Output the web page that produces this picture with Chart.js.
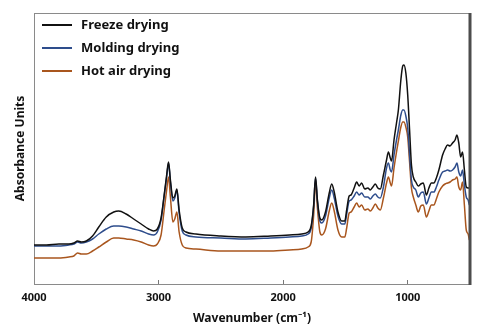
<!DOCTYPE html>
<html>
<head>
<meta charset="utf-8">
<script src="https://cdn.jsdelivr.net/npm/chart.js@4.4.1/dist/chart.umd.min.js"></script>
<style>
  body { margin: 0; background: #fff; }
</style>
</head>
<body>
<canvas id="ftir-chart" width="488" height="330"></canvas>
<script>
// wavenumber grid (cm-1), shared by all three spectra
const wavenumbers = [4000, 3900, 3800, 3720, 3680, 3650, 3620, 3580, 3530, 3480, 3420, 3360, 3320, 3260, 3200, 3140, 3080, 3040, 3010, 2980,
  2955, 2935, 2920, 2905, 2885, 2870, 2853, 2835, 2810, 2780, 2700, 2500, 2300, 2100, 1950, 1850, 1800, 1775, 1755, 1740,
  1725, 1705, 1690, 1660, 1630, 1610, 1590, 1560, 1530, 1505, 1490, 1470, 1455, 1430, 1410, 1390, 1370, 1345, 1320, 1300,
  1280, 1260, 1240, 1220, 1195, 1170, 1155, 1140, 1130, 1110, 1090, 1075, 1055, 1040, 1030, 1015, 1000, 985, 970, 955,
  935, 915, 895, 875, 850, 830, 810, 790, 770, 750, 720, 700, 680, 660, 640, 620, 605, 590, 575, 560,
  545, 530, 515, 505];

const freezeDrying = [0.39, 0.39, 0.40, 0.40, 0.41, 0.43, 0.42, 0.43, 0.48, 0.57, 0.67, 0.72, 0.73, 0.70, 0.65, 0.60, 0.55, 0.53, 0.55, 0.66,
  0.89, 1.09, 1.22, 1.04, 0.86, 0.88, 0.95, 0.74, 0.56, 0.52, 0.50, 0.48, 0.47, 0.48, 0.49, 0.50, 0.52, 0.58, 0.79, 1.07,
  0.84, 0.66, 0.64, 0.72, 0.91, 1.00, 0.92, 0.72, 0.63, 0.63, 0.74, 0.88, 0.89, 0.96, 1.02, 0.98, 1.01, 0.95, 0.96, 0.94,
  0.97, 1.00, 0.96, 0.95, 1.09, 1.24, 1.32, 1.26, 1.23, 1.44, 1.61, 1.74, 2.04, 2.18, 2.19, 2.11, 1.89, 1.54, 1.19, 1.07,
  1.02, 0.98, 1.00, 1.01, 0.89, 0.96, 1.01, 1.01, 1.06, 1.14, 1.29, 1.35, 1.39, 1.38, 1.41, 1.44, 1.49, 1.41, 1.27, 1.32,
  1.14, 0.97, 0.96, 0.96];

const moldingDrying = [0.38, 0.38, 0.38, 0.39, 0.40, 0.42, 0.41, 0.42, 0.45, 0.50, 0.55, 0.58, 0.58, 0.57, 0.55, 0.53, 0.50, 0.49, 0.52, 0.64,
  0.88, 1.07, 1.21, 1.02, 0.83, 0.86, 0.94, 0.71, 0.53, 0.49, 0.47, 0.46, 0.45, 0.46, 0.47, 0.48, 0.50, 0.56, 0.78, 1.06,
  0.83, 0.63, 0.61, 0.68, 0.86, 0.94, 0.86, 0.68, 0.60, 0.60, 0.70, 0.83, 0.84, 0.88, 0.92, 0.89, 0.91, 0.87, 0.87, 0.85,
  0.88, 0.90, 0.87, 0.86, 0.97, 1.16, 1.21, 1.14, 1.12, 1.29, 1.44, 1.54, 1.69, 1.74, 1.74, 1.68, 1.56, 1.29, 1.04, 0.97,
  0.94, 0.87, 0.91, 0.92, 0.80, 0.86, 0.92, 0.92, 0.97, 1.04, 1.12, 1.13, 1.14, 1.13, 1.14, 1.17, 1.21, 1.12, 1.08, 1.14,
  0.99, 0.87, 0.84, 0.79];

const hotAirDrying = [0.26, 0.26, 0.26, 0.27, 0.28, 0.31, 0.30, 0.30, 0.33, 0.37, 0.42, 0.46, 0.46, 0.45, 0.44, 0.42, 0.39, 0.38, 0.40, 0.49,
  0.74, 0.94, 1.07, 0.87, 0.62, 0.65, 0.72, 0.52, 0.39, 0.36, 0.35, 0.33, 0.33, 0.33, 0.34, 0.35, 0.37, 0.42, 0.69, 1.03,
  0.76, 0.52, 0.49, 0.55, 0.73, 0.81, 0.73, 0.54, 0.47, 0.47, 0.56, 0.71, 0.72, 0.77, 0.81, 0.77, 0.79, 0.74, 0.75, 0.73,
  0.76, 0.80, 0.76, 0.74, 0.86, 1.01, 1.07, 1.01, 0.98, 1.16, 1.32, 1.43, 1.57, 1.62, 1.62, 1.57, 1.47, 1.22, 0.96, 0.87,
  0.79, 0.72, 0.78, 0.79, 0.67, 0.73, 0.79, 0.79, 0.85, 0.92, 0.98, 1.00, 1.01, 1.02, 1.04, 1.05, 1.07, 0.97, 0.94, 1.02,
  0.79, 0.54, 0.50, 0.44];

const seriesLabels = ['Freeze drying', 'Molding drying', 'Hot air drying'];
const xTicks = [4000, 3000, 2000, 1000];

const FONT = "'Noto Sans', 'Open Sans', sans-serif";

function toPoints(values) {
  return wavenumbers.map((wn, i) => ({ x: wn, y: values[i] }));
}

function spectrum(label, values, color) {
  return {
    label: label,
    data: toPoints(values),
    borderColor: color,
    backgroundColor: color,
    borderWidth: 1.5,
    pointRadius: 0,
    cubicInterpolationMode: 'monotone',
    fill: false
  };
}

// top and right edges of the plot frame
const framePlugin = {
  id: 'frame',
  afterDraw(chart) {
    const { ctx, chartArea: a } = chart;
    ctx.save();
    ctx.strokeStyle = '#8a8a8a';
    ctx.lineWidth = 1;
    ctx.beginPath();
    ctx.moveTo(a.left, a.top + 0.5);
    ctx.lineTo(a.right, a.top + 0.5);
    ctx.stroke();
    ctx.strokeStyle = '#4d4d4d';
    ctx.lineWidth = 3;
    ctx.beginPath();
    ctx.moveTo(a.right, a.top);
    ctx.lineTo(a.right, a.bottom + 1);
    ctx.stroke();
    ctx.restore();
  }
};

// legend drawn inside the plot, top left
const insideLegend = {
  id: 'insideLegend',
  afterDraw(chart) {
    const { ctx, chartArea: a } = chart;
    ctx.save();
    ctx.font = "bold 13px " + FONT;
    ctx.textBaseline = 'middle';
    chart.data.datasets.forEach((ds, i) => {
      const y = a.top + 12 + i * 23;
      ctx.strokeStyle = ds.borderColor;
      ctx.lineWidth = 2;
      ctx.beginPath();
      ctx.moveTo(a.left + 8, y);
      ctx.lineTo(a.left + 38, y);
      ctx.stroke();
      ctx.fillStyle = '#111';
      ctx.fillText(ds.label, a.left + 47, y);
    });
    ctx.restore();
  }
};

new Chart(document.getElementById('ftir-chart').getContext('2d'), {
  type: 'line',
  data: {
    datasets: [
      spectrum(seriesLabels[0], freezeDrying, '#111111'),
      spectrum(seriesLabels[1], moldingDrying, '#2e4d8c'),
      spectrum(seriesLabels[2], hotAirDrying, '#a9561e')
    ]
  },
  options: {
    responsive: false,
    animation: false,
    layout: { padding: { left: 0, top: 13, right: 18, bottom: 0 } },
    plugins: {
      legend: { display: false },
      tooltip: { enabled: false }
    },
    scales: {
      x: {
        type: 'linear',
        reverse: true,
        min: 500,
        max: 4000,
        afterBuildTicks: (scale) => { scale.ticks = xTicks.map(v => ({ value: v })); },
        afterFit: (scale) => { scale.height = 46; },
        grid: { display: true, drawOnChartArea: false, drawTicks: true, tickLength: -4, color: '#777' },
        border: { display: true, color: '#8a8a8a', width: 1 },
        ticks: {
          padding: 11,
          maxRotation: 0,
          color: '#111',
          callback: (value) => String(value),
          font: { family: FONT, size: 11, weight: 'bold' }
        },
        title: {
          display: true,
          text: 'Wavenumber (cm⁻¹)',
          color: '#111',
          padding: 4,
          font: { family: FONT, size: 12, weight: 'bold' }
        }
      },
      y: {
        min: 0,
        max: 2.71,
        afterFit: (scale) => { scale.width = 34; },
        grid: { display: false },
        border: { display: true, color: '#8a8a8a', width: 1 },
        ticks: { display: false },
        title: {
          display: true,
          text: 'Absorbance Units',
          color: '#111',
          padding: 13,
          font: { family: FONT, size: 12, weight: 'bold' }
        }
      }
    }
  },
  plugins: [framePlugin, insideLegend]
});
</script>
</body>
</html>
